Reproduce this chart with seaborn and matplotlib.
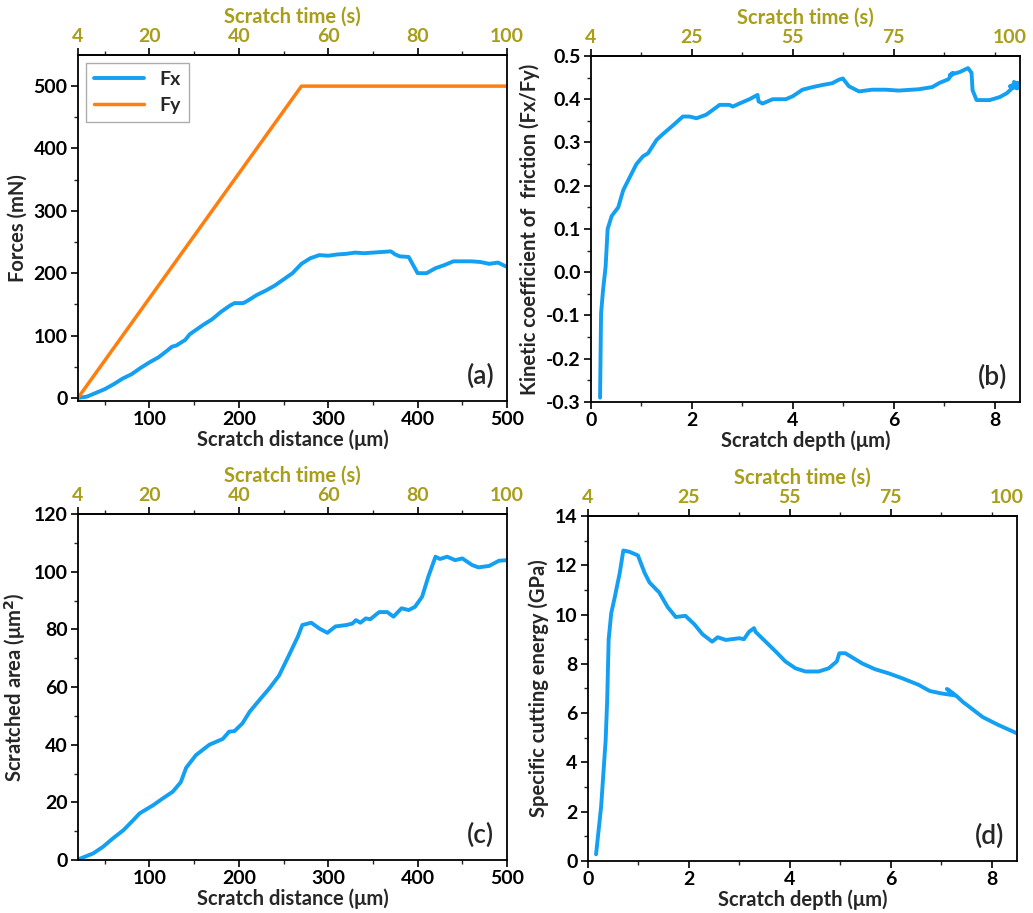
import numpy as np
import pandas as pd
import matplotlib
matplotlib.use("Agg")
import matplotlib.pyplot as plt
import seaborn as sns

# ---------------- data ----------------
# (a) forces vs scratch distance
fx_dist = [20, 30, 40, 50, 60, 70, 80, 90, 100, 110, 120, 125, 130, 140, 145, 160, 170, 180,
           190, 195, 205, 210, 220, 230, 240, 250, 260, 270, 280, 290, 300, 310, 320, 330,
           340, 350, 360, 370, 375, 380, 390, 400, 410, 420, 430, 440, 450, 460, 470, 480,
           490, 500]
fx_force = [0, 2, 8, 14, 22, 31, 38, 48, 57, 65, 76, 82, 84, 93, 102, 117, 126, 138,
            148, 152, 152, 156, 165, 172, 180, 190, 200, 215, 224, 229, 228, 230, 231, 233,
            232, 233, 234, 235, 230, 227, 226, 200, 200, 208, 213, 219, 219, 219, 218, 215,
            217, 210]
fy_dist = [20, 270, 500]
fy_force = [0, 500, 500]

# (b) kinetic coefficient of friction vs scratch depth
cof_depth = [0.18, 0.2, 0.24, 0.29, 0.33, 0.41, 0.54, 0.64, 0.77, 0.9, 1.03, 1.13, 1.3, 1.43,
             1.63, 1.82, 1.95, 2.09, 2.28, 2.41, 2.55, 2.74, 2.81, 2.94, 3.14, 3.3, 3.32, 3.4,
             3.6, 3.86, 4.0, 4.19, 4.39, 4.59, 4.78, 4.91, 4.99, 5.11, 5.31, 5.57, 5.84, 6.1,
             6.49, 6.76, 6.91, 7.08, 7.17, 7.11, 7.31, 7.47, 7.54, 7.56, 7.64, 7.9, 8.1, 8.24,
             8.34, 8.46, 8.3, 8.45, 8.38, 8.5]
cof_value = [-0.29, -0.095, -0.04, 0.013, 0.1, 0.13, 0.15, 0.19, 0.22, 0.25, 0.268, 0.275,
             0.306, 0.32, 0.34, 0.36, 0.36, 0.356, 0.364, 0.375, 0.387, 0.387, 0.383, 0.39,
             0.4, 0.41, 0.395, 0.39, 0.4, 0.4, 0.407, 0.422, 0.428, 0.433, 0.437, 0.445, 0.448,
             0.43, 0.418, 0.422, 0.422, 0.42, 0.423, 0.428, 0.438, 0.446, 0.461, 0.456, 0.463,
             0.472, 0.461, 0.421, 0.398, 0.398, 0.405, 0.414, 0.425, 0.438, 0.43, 0.425,
             0.44, 0.43]

# (c) scratched area vs scratch distance
area_dist = [20, 37, 48, 59, 71, 82, 89, 104, 115, 126, 135, 141, 152, 167, 182, 189, 195,
             204, 212, 223, 234, 245, 256, 266, 271, 281, 290, 299, 308, 320, 327, 331, 336,
             342, 347, 357, 366, 373, 382, 390, 397, 405, 412, 420, 425, 433, 442, 450, 461,
             468, 480, 491, 500]
area_value = [0.2, 2.3, 4.6, 7.5, 10.4, 13.9, 16.2, 19, 21.4, 23.7, 27, 32, 36.4, 40, 42,
              44.5, 44.7, 47.4, 51.4, 55.5, 59.5, 64, 71, 77.5, 81.5, 82.3, 80.3, 78.8, 81,
              81.5, 82, 83.2, 82.3, 83.8, 83.5, 86, 86, 84.4, 87.3, 86.7, 87.8, 91.3, 98.3,
              105.2, 104.4, 105.2, 104, 104.6, 102.3, 101.5, 102, 103.8, 104]

# (d) specific cutting energy vs scratch depth
sce_depth = [0.16, 0.26, 0.35, 0.38, 0.41, 0.46, 0.53, 0.63, 0.7, 0.82, 0.99, 1.12, 1.22,
             1.41, 1.58, 1.74, 1.93, 2.11, 2.27, 2.46, 2.57, 2.73, 3.0, 3.09, 3.19, 3.29, 3.32,
             3.52, 3.72, 3.91, 4.11, 4.31, 4.57, 4.77, 4.93, 4.98, 5.1, 5.43, 5.69, 5.95, 6.22,
             6.55, 6.77, 7.0, 7.27, 7.11, 7.3, 7.43, 7.56, 7.82, 8.13, 8.5]
sce_value = [0.27, 2.2, 4.9, 6.5, 9.0, 10.05, 10.7, 11.7, 12.6, 12.55, 12.4, 11.7, 11.3,
             10.9, 10.3, 9.9, 9.95, 9.6, 9.2, 8.9, 9.08, 8.97, 9.04, 9.0, 9.3, 9.45, 9.3, 8.9,
             8.5, 8.1, 7.82, 7.69, 7.69, 7.82, 8.1, 8.43, 8.43, 8.02, 7.78, 7.62, 7.42, 7.15,
             6.9, 6.8, 6.72, 6.98, 6.7, 6.45, 6.25, 5.84, 5.52, 5.18]

# top axis (scratch time) ticks
time_pos_dist = [20, 100, 200, 300, 400, 500]
time_lab_dist = ["4", "20", "40", "60", "80", "100"]
time_pos_depth = [0, 2, 4, 6, 8.3]
time_lab_depth = ["4", "25", "55", "75", "100"]

# ---------------- style ----------------
sns.set_theme(style="ticks")
plt.rcParams["font.family"] = ["Lato", "DejaVu Sans"]
plt.rcParams["font.weight"] = "bold"
plt.rcParams["axes.labelweight"] = "bold"

BLUE = "#14A0F2"
ORANGE = "#FF7F0E"
OLIVE = "#A89E1A"
TICK_FS = 14
LABEL_FS = 14.5
TAG_FS = 19

fig = plt.figure(figsize=(10.33, 9.13), dpi=100)

boxes = {
    "a": [0.0755, 0.5608, 0.4153, 0.3790],
    "b": [0.5721, 0.5597, 0.4153, 0.3790],
    "c": [0.0755, 0.0580, 0.4153, 0.3790],
    "d": [0.5692, 0.0570, 0.4153, 0.3778],
}


def style_axis(ax, top_pos, top_lab, minor_x, minor_y, top_minor=None):
    for s in ax.spines.values():
        s.set_visible(True)
        s.set_color("black")
        s.set_linewidth(1.3)
    ax.tick_params(axis="both", which="major", direction="out", length=5, width=1.2,
                   labelsize=TICK_FS, colors="black", right=False, top=False, pad=2.5)
    ax.tick_params(axis="both", which="minor", direction="out", length=3, width=1.0,
                   right=False, top=False)
    ax.set_xticks(minor_x, minor=True)
    ax.set_yticks(minor_y, minor=True)
    for lab in ax.get_xticklabels() + ax.get_yticklabels():
        lab.set_fontweight("bold")
    sec = ax.secondary_xaxis("top")
    sec.set_xticks(top_pos, top_lab)
    sec.set_xticks(top_minor if top_minor is not None else minor_x, minor=True)
    sec.spines["top"].set_linewidth(1.3)
    sec.tick_params(axis="x", which="major", direction="out", length=5, width=1.2,
                    labelsize=TICK_FS, labelcolor=OLIVE, color="black", pad=2)
    sec.tick_params(axis="x", which="minor", direction="out", length=3, width=1.0)
    if top_minor is not None:
        # the last label sits near the right edge without its own tick mark
        sec.xaxis.get_major_ticks()[-1].tick2line.set_visible(False)
        sec.xaxis.get_major_ticks()[-1].tick1line.set_visible(False)
    for lab in sec.get_xticklabels():
        lab.set_fontweight("bold")
    sec.set_xlabel("Scratch time (s)", color=OLIVE, fontsize=LABEL_FS, fontweight="bold",
                   labelpad=4)
    return sec


def tag(ax, s):
    ax.text(0.97, 0.035, s, transform=ax.transAxes, ha="right", va="bottom",
            fontsize=TAG_FS, fontweight="semibold")


# (a)
ax = fig.add_axes(boxes["a"])
sns.lineplot(x=fx_dist, y=fx_force, ax=ax, color=BLUE, lw=2.8, sort=False, estimator=None,
             label="Fx")
sns.lineplot(x=fy_dist, y=fy_force, ax=ax, color=ORANGE, lw=2.5, sort=False, estimator=None,
             label="Fy")
ax.set_xlim(20, 500)
ax.set_ylim(-5, 550)
ax.set_xticks([100, 200, 300, 400, 500])
ax.set_yticks([0, 100, 200, 300, 400, 500])
style_axis(ax, time_pos_dist, time_lab_dist, [50, 150, 250, 350, 450],
           [50, 150, 250, 350, 450])
ax.set_xlabel("Scratch distance (μm)", fontsize=LABEL_FS, fontweight="bold", labelpad=1)
ax.set_ylabel("Forces (mN)", fontsize=LABEL_FS, fontweight="bold", labelpad=4)
leg = ax.legend(loc="upper left", frameon=True, fancybox=False,
                edgecolor="#999999", handlelength=2.6, borderaxespad=0.4,
                prop={"weight": "bold", "size": 14})
leg.get_frame().set_linewidth(1.0)
tag(ax, "(a)")

# (b)
ax = fig.add_axes(boxes["b"])
sns.lineplot(x=cof_depth, y=cof_value, ax=ax, color=BLUE, lw=2.8, sort=False, estimator=None)
ax.set_xlim(0, 8.5)
ax.set_ylim(-0.3, 0.5)
ax.set_xticks([0, 2, 4, 6, 8])
yt = np.round(np.arange(-0.3, 0.51, 0.1), 1)
ax.set_yticks(yt)
ax.set_yticklabels([f"{v:.1f}" for v in yt])
style_axis(ax, time_pos_depth, time_lab_depth, [1, 3, 5, 7],
           list(np.round(np.arange(-0.25, 0.5, 0.1), 2)), top_minor=[1, 3, 5, 7, 8])
ax.set_xlabel("Scratch depth (μm)", fontsize=LABEL_FS, fontweight="bold", labelpad=1)
ax.set_ylabel("Kinetic coefficient of  friction (Fx/Fy)", fontsize=LABEL_FS,
              fontweight="bold", labelpad=4)
tag(ax, "(b)")

# (c)
ax = fig.add_axes(boxes["c"])
sns.lineplot(x=area_dist, y=area_value, ax=ax, color=BLUE, lw=2.8, sort=False, estimator=None)
ax.set_xlim(20, 500)
ax.set_ylim(0, 120)
ax.set_xticks([100, 200, 300, 400, 500])
ax.set_yticks([0, 20, 40, 60, 80, 100, 120])
style_axis(ax, time_pos_dist, time_lab_dist, [50, 150, 250, 350, 450],
           [10, 30, 50, 70, 90, 110])
ax.set_xlabel("Scratch distance (μm)", fontsize=LABEL_FS, fontweight="bold", labelpad=1)
ax.set_ylabel("Scratched area (μm$^\\mathbf{2}$)", fontsize=LABEL_FS, fontweight="bold",
              labelpad=4)
tag(ax, "(c)")

# (d)
ax = fig.add_axes(boxes["d"])
sns.lineplot(x=sce_depth, y=sce_value, ax=ax, color=BLUE, lw=2.8, sort=False, estimator=None)
ax.set_xlim(0, 8.5)
ax.set_ylim(0, 14)
ax.set_xticks([0, 2, 4, 6, 8])
ax.set_yticks([0, 2, 4, 6, 8, 10, 12, 14])
style_axis(ax, time_pos_depth, time_lab_depth, [1, 3, 5, 7],
           [1, 3, 5, 7, 9, 11, 13], top_minor=[1, 3, 5, 7, 8])
ax.set_xlabel("Scratch depth (μm)", fontsize=LABEL_FS, fontweight="bold", labelpad=1)
ax.set_ylabel("Specific cutting energy (GPa)", fontsize=LABEL_FS, fontweight="bold",
              labelpad=4)
tag(ax, "(d)")

fig.savefig("out.png", dpi=100)
